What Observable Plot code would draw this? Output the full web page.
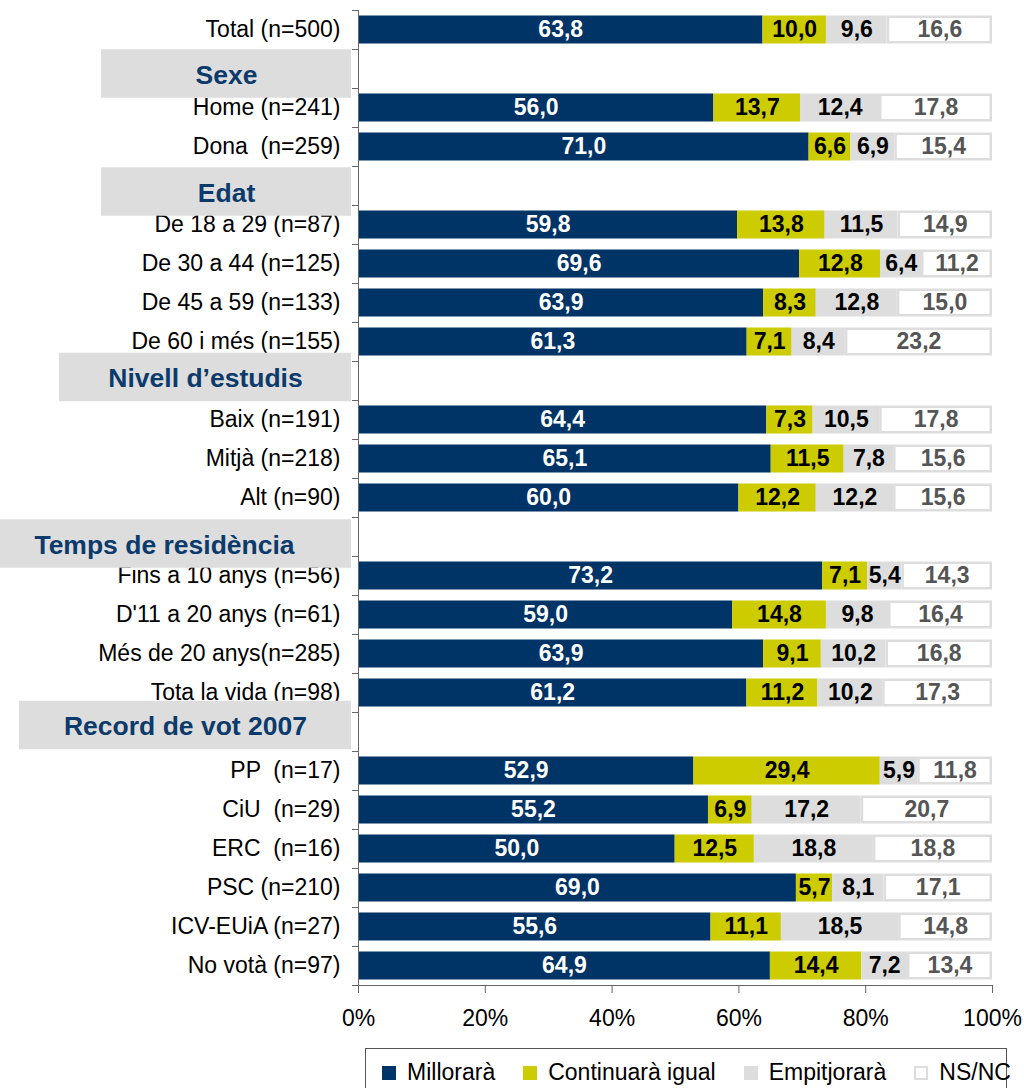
<!DOCTYPE html>
<html><head><meta charset="utf-8">
<script src="https://cdn.jsdelivr.net/npm/d3@7"></script>
<script src="https://cdn.jsdelivr.net/npm/@observablehq/plot@0.6"></script>
<style>
body{margin:0;background:#fff;font-family:"Liberation Sans",Arial,sans-serif;}
#wrap{position:relative;width:1024px;height:1088px;overflow:hidden;background:#fff}
svg text{white-space:pre}
#legend{position:absolute;left:365px;top:1048px;width:642px;height:60px;border:1px solid #555;box-sizing:border-box;display:flex;align-items:flex-start;padding:10px 0 0 16px;font-size:23px;color:#000}
#legend .it{display:flex;align-items:center;margin-right:28px;white-space:nowrap}
#legend .sw{width:14px;height:14px;margin-right:11px;box-sizing:border-box}
</style></head><body><div id="wrap"></div>
<script>
// ---- data ----
const series = ["Millorarà", "Continuarà igual", "Empitjorarà", "NS/NC"];
const categories = [
  "Total (n=500)",
  "Home (n=241)", "Dona  (n=259)",
  "De 18 a 29 (n=87)", "De 30 a 44 (n=125)", "De 45 a 59 (n=133)", "De 60 i més (n=155)",
  "Baix (n=191)", "Mitjà (n=218)", "Alt (n=90)",
  "Fins a 10 anys (n=56)", "D'11 a 20 anys (n=61)", "Més de 20 anys(n=285)", "Tota la vida (n=98)",
  "PP  (n=17)", "CiU  (n=29)", "ERC  (n=16)", "PSC (n=210)", "ICV-EUiA (n=27)", "No votà (n=97)"
];
const headers = ["Sexe", "Edat", "Nivell d\u2019estudis", "Temps de residència", "Record de vot 2007"];
const headerBefore = [1, 3, 7, 10, 14]; // category index each header precedes
const millorara   = [63.8, 56.0, 71.0, 59.8, 69.6, 63.9, 61.3, 64.4, 65.1, 60.0, 73.2, 59.0, 63.9, 61.2, 52.9, 55.2, 50.0, 69.0, 55.6, 64.9];
const continuara  = [10.0, 13.7, 6.6, 13.8, 12.8, 8.3, 7.1, 7.3, 11.5, 12.2, 7.1, 14.8, 9.1, 11.2, 29.4, 6.9, 12.5, 5.7, 11.1, 14.4];
const empitjorara = [9.6, 12.4, 6.9, 11.5, 6.4, 12.8, 8.4, 10.5, 7.8, 12.2, 5.4, 9.8, 10.2, 10.2, 5.9, 17.2, 18.8, 8.1, 18.5, 7.2];
const nsnc        = [16.6, 17.8, 15.4, 14.9, 11.2, 15.0, 23.2, 17.8, 15.6, 15.6, 14.3, 16.4, 16.8, 17.3, 11.8, 20.7, 18.8, 17.1, 14.8, 13.4];
const xTicks = [0, 0.2, 0.4, 0.6, 0.8, 1];

// ---- styles ----
const colors = ["#003366", "#CCCC00", "#DDDDDD", "#FFFFFF"];
const labelColors = ["#FFFFFF", "#000000", "#000000", "#555555"];
const headerBoxLeft = [101, 101, 59, 0, 19];   // px
const headerShift = [5, 6, -3.5, 7, -6.5];     // px
const headerTextX = [226, 226, 205, 164, 185]; // px

// ---- build ----
const slots = [];
categories.forEach((c, i) => {
  const h = headerBefore.indexOf(i);
  if (h >= 0) slots.push(headers[h]);
  slots.push(c);
});
const values = [millorara, continuara, empitjorara, nsnc];
const table = categories.flatMap((cat, i) => series.map((s, j) => ({cat, series: s, value: values[j][i]})));
// manual normalized stack for labels / outline
const segs = [];
categories.forEach((cat, i) => {
  const tot = d3.sum(values, v => v[i]);
  let c = 0;
  series.forEach((s, j) => {
    const v = values[j][i] / tot;
    segs.push({cat, series: s, j, x1: c, x2: c + v, value: values[j][i]});
    c += v;
  });
});
const fmt = v => d3.format(".1f")(v).replace(".", ",");

const W = 1024, H = 1046, mL = 358, mR = 32, mT = 10, mB = H - 985;
const px2x = p => (p - mL) / (W - mR - mL);
const step = (H - mT - mB) / slots.length;

const marks = [
  Plot.axisY({tickSize: 0, tickPadding: 18, label: null, tickFormat: d => headers.includes(d) ? "" : d, fill: "#000", fontSize: 23}),
  Plot.barX(table, Plot.stackX({x: "value", y: "cat", fill: "series", offset: "normalize", insetTop: 5.5, insetBottom: 5.5})),
  Plot.barX(segs.filter(d => d.j === 3), {x1: "x1", x2: "x2", y: "cat", fill: "#FFFFFF", stroke: "#DDDDDD", strokeWidth: 2.5,
    insetTop: 6.75, insetBottom: 6.75, insetLeft: 1.25, insetRight: 1.25}),
  ...series.map((s, j) => Plot.text(segs.filter(d => d.j === j), {
    x: d => (d.x1 + d.x2) / 2, y: "cat", text: d => fmt(d.value), fill: labelColors[j],
    fontWeight: "bold", fontSize: 23
  })),
  Plot.ruleX([0], {stroke: "#666"}),
  Plot.ruleY(slots, {y: d => d, x1: px2x(352), x2: 0, dy: -step / 2, stroke: "#666"}),
  Plot.ruleY([slots[slots.length - 1]], {y: d => d, x1: px2x(352), x2: 1, dy: step / 2, stroke: "#666"}),
  Plot.axisX({ticks: xTicks, tickSize: 8, tickPadding: 16, label: null, tickFormat: d3.format(".0%"), stroke: "#666", fill: "#000", fontSize: 23}),
  ...headers.map((h, k) => Plot.barX([h], {y: d => d, x1: px2x(headerBoxLeft[k]), x2: px2x(351), fill: "#DDDDDD",
    insetTop: -4.75, insetBottom: -4.75, dy: headerShift[k]})),
  ...headers.map((h, k) => Plot.text([h], {y: d => d, x: px2x(headerTextX[k]), text: d => d, fontWeight: "bold", fontSize: 26.5,
    fill: "#0B3A6B", dy: headerShift[k] + 1.5}))
];

const chart = Plot.plot({
  width: W, height: H, marginLeft: mL, marginRight: mR, marginTop: mT, marginBottom: mB,
  x: {domain: [0, 1], axis: null},
  y: {type: "band", domain: slots, padding: 0, axis: null},
  color: {domain: series, range: colors},
  style: {fontFamily: "'Liberation Sans', Arial, sans-serif", fontSize: "23px", background: "white", overflow: "visible"},
  marks
});
const wrap = document.getElementById("wrap");
wrap.appendChild(chart);

// legend
const lg = document.createElement("div");
lg.id = "legend";
series.forEach((s, j) => {
  const it = document.createElement("div"); it.className = "it";
  const sw = document.createElement("div"); sw.className = "sw";
  sw.style.background = colors[j];
  if (j === 3) sw.style.border = "2px solid #DDDDDD";
  const t = document.createElement("span"); t.textContent = s;
  it.appendChild(sw); it.appendChild(t); lg.appendChild(it);
});
wrap.appendChild(lg);
</script></body></html>
